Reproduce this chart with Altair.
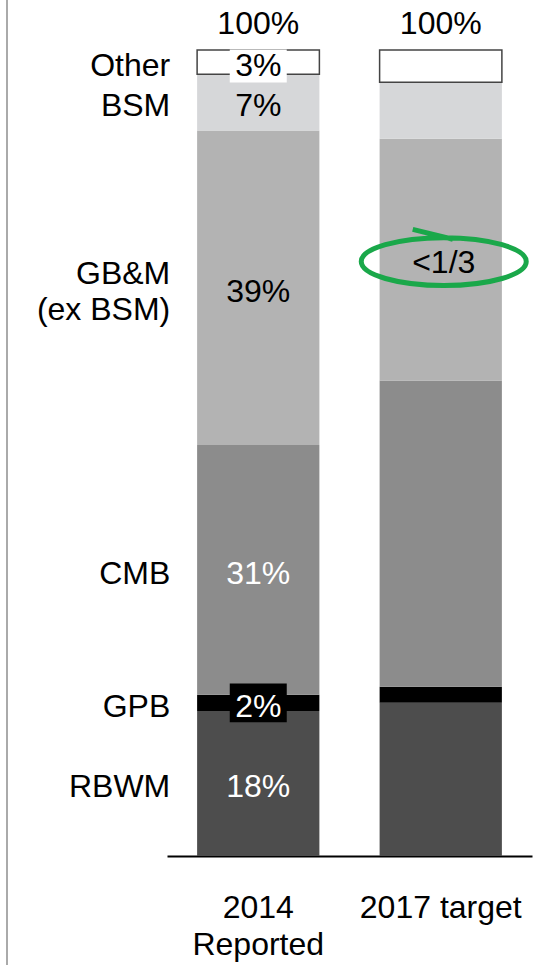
import altair as alt
import pandas as pd

# ---- data ----
bars = ["2014|Reported", "2017 target"]
segments = ["RBWM", "GPB", "CMB", "GB&M", "BSM", "Other"]
segment_labels = ["RBWM", "GPB", "CMB", "GB&M\n(ex BSM)", "BSM", "Other"]
values_2014 = [18, 2, 31, 39, 7, 3]
values_2017 = [19, 2, 38, 30, 7, 4]
value_text_2014 = ["18%", "2%", "31%", "39%", "7%", "3%"]
totals = ["100%", "100%"]
note_segment = "GB&M"
note_text = "<1/3"
colors = ["#4d4d4d", "#000000", "#8c8c8c", "#b3b3b3", "#d6d7d9", "#ffffff"]

FONT = "Liberation Sans"
FS = 32

rows = []
for bar, vals in zip(bars, [values_2014, values_2017]):
    acc = 0
    for i, (seg, v) in enumerate(zip(segments, vals)):
        rows.append(dict(bar=bar, seg=seg, label=segment_labels[i], value=v,
                         y0=acc, y1=acc + v, mid=acc + v / 2,
                         vtext=value_text_2014[i] if bar == bars[0] else ""))
        acc += v
df = pd.DataFrame(rows)
df14 = df[df.bar == bars[0]]
df_tot = pd.DataFrame(dict(bar=bars, total=[sum(values_2014), sum(values_2017)], t=totals))
df_note = df[(df.bar == bars[1]) & (df.seg == note_segment)].assign(note=note_text)

x = alt.X("bar:N", sort=bars, title=None,
          scale=alt.Scale(paddingInner=0.33, paddingOuter=0.165),
          axis=alt.Axis(labelExpr="split(datum.label, '|')", labelAngle=0,
                        labelFont=FONT, labelFontSize=FS, labelColor="black",
                        labelLineHeight=37, labelPadding=36, ticks=False,
                        domainColor="black", domainWidth=2))
yscale = alt.Scale(domain=[0, 100], nice=False)
xs = alt.X("bar:N", sort=bars)
ym = alt.Y("mid:Q", scale=yscale)

base = alt.Chart(df)

bar_layer = base.mark_bar(stroke="#444444").encode(
    x=x,
    y=alt.Y("y0:Q", scale=yscale, axis=None),
    y2="y1:Q",
    color=alt.Color("seg:N", scale=alt.Scale(domain=segments, range=colors), legend=None),
    strokeWidth=alt.condition(alt.datum.seg == "Other", alt.value(1.5), alt.value(0)),
)

box_white = alt.Chart(df14[df14.seg == "Other"]).mark_point(
    shape="M-1,-0.58 L1,-0.58 L1,0.58 L-1,0.58 Z", filled=True, fill="white", opacity=1,
    strokeWidth=0, size=57 * 57, yOffset=4).encode(x=xs, y=ym)
box_black = alt.Chart(df14[df14.seg == "GPB"]).mark_point(
    shape="M-1,-0.68 L1,-0.68 L1,0.68 L-1,0.68 Z", filled=True, fill="black", opacity=1,
    strokeWidth=0, size=57 * 57).encode(x=xs, y=ym)

value_labels = alt.Chart(df14).mark_text(font=FONT, fontSize=FS, baseline="middle", dy=4).encode(
    x=xs, y=ym, text="vtext:N",
    color=alt.condition(alt.FieldOneOfPredicate(field="seg", oneOf=["CMB", "GPB", "RBWM"]),
                        alt.value("white"), alt.value("black")),
)

single = df14[~df14.label.str.contains("\n")]
multi = df14[df14.label.str.contains("\n")]
cat_labels = alt.Chart(single).mark_text(font=FONT, fontSize=FS, align="right", baseline="middle",
                                         dx=-88, dy=4, color="black").encode(
    x=xs, y=ym, text="label:N")
cat_labels_multi = alt.Chart(multi).mark_text(font=FONT, fontSize=FS, align="right",
                                              baseline="middle", dx=-88, dy=-14, lineBreak="\n",
                                              lineHeight=36, color="black").encode(
    x=xs, y=ym, text="label:N")

total_labels = alt.Chart(df_tot).mark_text(font=FONT, fontSize=FS, baseline="middle", dy=-26,
                                           color="black").encode(
    x=xs, y=alt.Y("total:Q", scale=yscale), text="t:N")

note_label = alt.Chart(df_note).mark_text(font=FONT, fontSize=FS, baseline="middle", dx=3, dy=3,
                                          color="black").encode(
    x=xs, y=ym, text="note:N")

ellipse_path = ("M-0.376,-0.39 L0.11,-0.27 "
                "M-1,0 A1,0.29 0 1,0 1,0 A1,0.29 0 1,0 -1,0 Z")
note_ellipse = alt.Chart(df_note).mark_point(
    shape=ellipse_path, filled=False, stroke="#1aa84a", strokeWidth=5, opacity=1,
    size=165 * 165, xOffset=3, yOffset=2).encode(x=xs, y=ym)

left_line = alt.Chart(df_tot).mark_rule(color="#aaaaaa", strokeWidth=2).encode(
    x=alt.value(-160), y=alt.value(-50), y2=alt.value(915))

chart = alt.layer(bar_layer, box_white, box_black, value_labels, cat_labels, cat_labels_multi,
                  total_labels, note_label, note_ellipse, left_line).properties(
    width=365, height=806,
    padding={"left": 167, "top": 50, "right": 19, "bottom": 109},
    autosize=alt.AutoSizeParams(type="none"),
).configure_view(stroke=None)

chart.save("out.html", embed_options={"renderer": "svg", "actions": False})
